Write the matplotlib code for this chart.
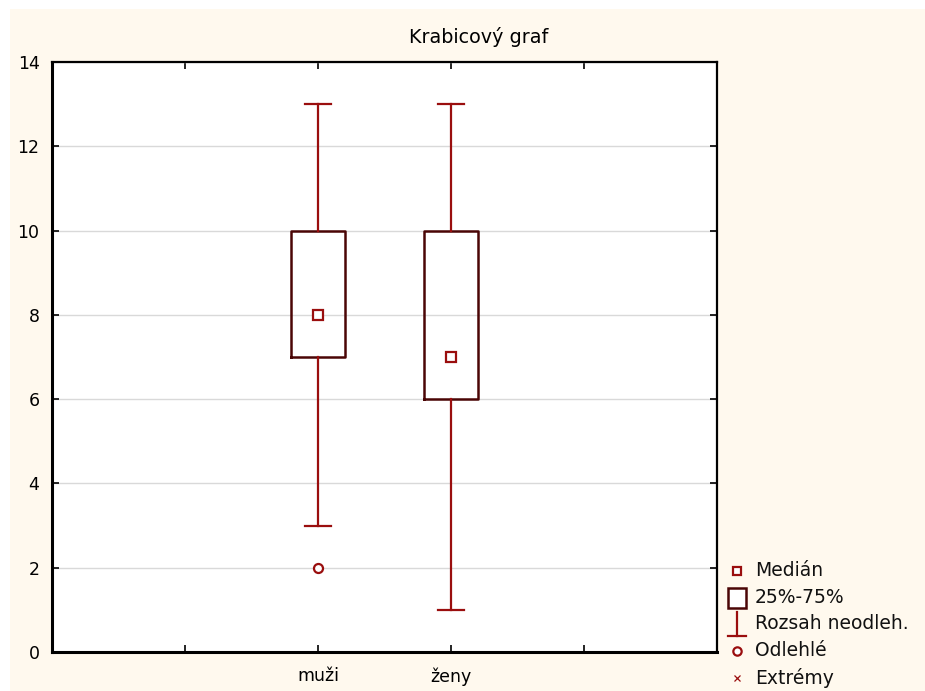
import matplotlib
matplotlib.use("Agg")
import matplotlib.pyplot as plt
from matplotlib.patches import Rectangle

# Box plot summary values per group
categories = ["muži", "ženy"]
medians = [8, 7]
q1 = [7, 6]
q3 = [10, 10]
whisker_low = [3, 1]
whisker_high = [13, 13]
outliers = [[2], []]
y_ticks = [0, 2, 4, 6, 8, 10, 12, 14]
legend_labels = ["Medián", "25%-75%", "Rozsah neodleh.", "Odlehlé", "Extrémy"]

BOX_COLOR = "#4a0505"
WHISK_COLOR = "#9a0e0e"
CREAM = "#fff9ee"

plt.rcParams["font.family"] = ["DejaVu Sans"]

fig = plt.figure(figsize=(9.25, 6.91), dpi=100)
fig.patch.set_facecolor("white")
fig.patches.append(Rectangle((10 / 925, 0), 1 - 10 / 925, 1 - 9 / 691,
                             transform=fig.transFigure, facecolor=CREAM,
                             edgecolor="none", zorder=-10))

ax = fig.add_axes([52 / 925, 1 - 652 / 691, (717 - 52) / 925, (652 - 62) / 691])
ax.set_facecolor("white")

positions = [2, 3]
ax.bxp(
    [
        dict(med=m, q1=a, q3=b, whislo=lo, whishi=hi, fliers=fl, label=c)
        for m, a, b, lo, hi, fl, c in zip(medians, q1, q3, whisker_low,
                                          whisker_high, outliers, categories)
    ],
    positions=positions,
    widths=0.4,
    showfliers=True,
    boxprops=dict(color=BOX_COLOR, linewidth=1.8),
    whiskerprops=dict(color=WHISK_COLOR, linewidth=1.6),
    capprops=dict(color=WHISK_COLOR, linewidth=1.6),
    medianprops=dict(linewidth=0),
    flierprops=dict(marker="o", markersize=6.5, markerfacecolor="white",
                    markeredgecolor=WHISK_COLOR, markeredgewidth=1.6),
    capwidths=0.2,
    manage_ticks=False,
    zorder=3,
)
ax.plot(positions, medians, linestyle="none", marker="s", markersize=6.5,
        markerfacecolor="white", markeredgecolor=WHISK_COLOR,
        markeredgewidth=1.6, zorder=4)

ax.set_xlim(0, 5)
ax.set_ylim(0, 14)
ax.set_yticks(y_ticks)
ax.set_xticks([1, 2, 3, 4])
ax.set_xticklabels(["", categories[0], categories[1], ""])
ax.tick_params(axis="both", direction="in", length=5, width=1.2, color="black",
               labelsize=12.5, top=True, right=True)
ax.tick_params(axis="x", pad=11)
ax.tick_params(axis="y", pad=9)
ax.grid(axis="y", color="#d9d9d9", linewidth=1)
ax.set_axisbelow(True)
for side in ["left", "bottom"]:
    ax.spines[side].set_linewidth(2.2)
for side in ["top", "right"]:
    ax.spines[side].set_linewidth(1.6)

fig.text(479 / 925, 1 - 37 / 691, "Krabicový graf", fontsize=13.8,
         ha="center", va="center")

# Legend drawn in its own axes at the lower right
lax = fig.add_axes([721.5 / 925, 0.0, 203.5 / 925, 138 / 691])
lax.set_xlim(0, 1)
lax.set_ylim(0, 1)
lax.axis("off")
ys = [0.87, 0.674, 0.486, 0.29, 0.094]
sx = 0.076
lax.plot([sx], [ys[0]], marker="s", markersize=6, markerfacecolor="white",
         markeredgecolor=WHISK_COLOR, markeredgewidth=1.6, linestyle="none")
lax.add_patch(Rectangle((sx - 0.043, ys[1] - 0.075), 0.086, 0.15,
                        facecolor="white", edgecolor=BOX_COLOR, linewidth=1.8))
lax.plot([sx, sx], [ys[2] - 0.085, ys[2] + 0.085], color=WHISK_COLOR, linewidth=1.6)
lax.plot([sx - 0.045, sx + 0.045], [ys[2] - 0.085] * 2, color=WHISK_COLOR,
         linewidth=1.6)
lax.plot([sx], [ys[3]], marker="o", markersize=6, markerfacecolor="white",
         markeredgecolor=WHISK_COLOR, markeredgewidth=1.6, linestyle="none")
lax.plot([sx], [ys[4]], marker="x", markersize=5, color=WHISK_COLOR,
         markeredgewidth=0.9, linestyle="none")
for y, lab in zip(ys, legend_labels):
    lax.text(0.164, y, lab, fontsize=13.5, va="center", ha="left",
             color="#111111")

fig.savefig("out.png", dpi=100, facecolor=fig.get_facecolor())
